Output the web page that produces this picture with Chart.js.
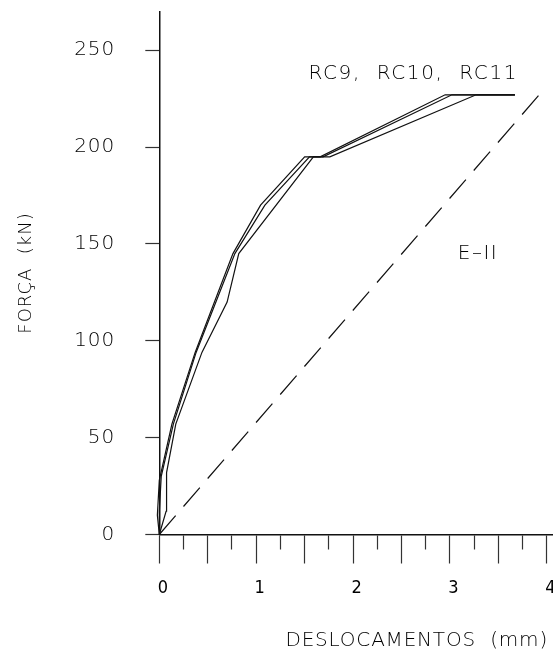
<!DOCTYPE html>
<html>
<head>
<meta charset="utf-8">
<script src="https://cdn.jsdelivr.net/npm/chart.js@4.4.0/dist/chart.umd.min.js"></script>
<style>
  html, body { margin: 0; padding: 0; background: #fff; }
  #wrap { width: 553px; height: 659px; }
</style>
</head>
<body>
<div id="wrap"><canvas id="forceChart" width="553" height="659"></canvas></div>
<script>
// ===== DATA =====
// displacement (mm) / force (kN) for each beam
var rc9Disp = [0, -0.02, 0.0, 0.13, 0.37, 0.76, 1.045, 1.50, 1.66, 2.95, 3.67];
var rc9Force = [0, 10, 28, 57, 94, 145, 170, 195, 195, 227, 227];
var rc10Disp = [0, 0.0, 0.02, 0.145, 0.38, 0.78, 1.09, 1.55, 1.69, 3.02, 3.67];
var rc10Force = [0, 12, 30, 57, 94, 145, 170, 195, 195, 227, 227];
var rc11Disp = [0, 0.07, 0.075, 0.17, 0.44, 0.70, 0.82, 1.59, 1.76, 3.27, 3.67];
var rc11Force = [0, 12, 32, 57, 94, 120, 145, 195, 195, 227, 227];
// elastic stage II reference line
var eIIDisp = [0, 3.92];
var eIIForce = [0, 227];

var xTickValues = [0, 0.25, 0.5, 0.75, 1, 1.25, 1.5, 1.75, 2, 2.25, 2.5, 2.75, 3, 3.25, 3.5, 3.75, 4];
var yTickValues = [0, 50, 100, 150, 200, 250];

var FONT = '"DejaVu Sans", "Liberation Sans", sans-serif';
var NARROW = '"Liberation Sans Narrow", "DejaVu Sans Condensed", "Liberation Sans", sans-serif';
var INK = '#000';

// ===== HELPERS =====
function toPoints(xs, ys) {
    return xs.map(function (x, i) { return { x: x, y: ys[i] }; });
}

function curve(label, xs, ys, dash) {
    return {
        label: label,
        data: toPoints(xs, ys),
        borderColor: '#111',
        borderWidth: 1.2,
        borderDash: dash || [],
        pointRadius: 0,
        fill: false,
        tension: 0,
        clip: false
    };
}

// free text on the plot: series names and the horizontal axis title
var plotText = {
    id: 'plotText',
    beforeDraw: function (chart) {
        chart.ctx.letterSpacing = '1px';
    },
    afterDraw: function (chart) {
        var ctx = chart.ctx;
        var xs = chart.scales.x, ys = chart.scales.y;
        ctx.save();
        ctx.fillStyle = INK;
        ctx.font = '200 20px ' + FONT;
        ctx.textBaseline = 'middle';
        ctx.textAlign = 'left';
        ctx.letterSpacing = '1.6px';
        ctx.fillText('RC9,  RC10,  RC11', xs.getPixelForValue(1.54), ys.getPixelForValue(238));
        ctx.letterSpacing = '1.5px';
        ctx.fillText('E\u2013II', xs.getPixelForValue(3.08), ys.getPixelForValue(145));
        ctx.letterSpacing = '0.8px';
        ctx.textAlign = 'right';
        ctx.fillText('DESLOCAMENTOS  (mm)', chart.chartArea.right - 5, 641);
        ctx.restore();
    }
};

// ===== CHART =====
new Chart(document.getElementById('forceChart'), {
    type: 'line',
    data: {
        datasets: [
            curve('RC9', rc9Disp, rc9Force),
            curve('RC10', rc10Disp, rc10Force),
            curve('RC11', rc11Disp, rc11Force),
            curve('E-II', eIIDisp, eIIForce, [25, 12])
        ]
    },
    options: {
        responsive: false,
        animation: false,
        devicePixelRatio: 1,
        layout: { padding: { top: 11.5, right: 0, bottom: 0, left: 0 } },
        plugins: { legend: { display: false }, tooltip: { enabled: false } },
        scales: {
            x: {
                type: 'linear',
                min: 0,
                max: 4.063,
                afterBuildTicks: function (scale) {
                    scale.ticks = xTickValues.map(function (v) { return { value: v }; });
                },
                afterFit: function (scale) {
                    scale.height = 124.5;
                    scale.paddingLeft = 0;
                    scale.paddingRight = 0;
                },
                border: { display: true, color: '#111', width: 1.5 },
                grid: {
                    drawOnChartArea: false,
                    drawTicks: true,
                    tickLength: 29,
                    tickColor: '#333',
                    tickWidth: 1.2,
                    // quarter ticks are short, half ticks run full length
                    tickBorderDash: function (c) {
                        return c.tick && (c.tick.value * 2) % 1 !== 0 ? [14, 60] : [];
                    }
                },
                ticks: {
                    autoSkip: false,
                    maxRotation: 0,
                    padding: 13.7,
                    labelOffset: 4,
                    color: INK,
                    font: { family: NARROW, size: 18 },
                    callback: function (v) { return Number.isInteger(v) ? String(v) : ''; }
                }
            },
            y: {
                type: 'linear',
                min: 0,
                max: 270,
                afterBuildTicks: function (scale) {
                    scale.ticks = yTickValues.map(function (v) { return { value: v }; });
                },
                afterFit: function (scale) {
                    scale.width = 159.3;
                    scale.paddingTop = 0;
                    scale.paddingBottom = 0;
                },
                border: { display: true, color: '#111', width: 1.5 },
                grid: {
                    drawOnChartArea: false,
                    drawTicks: true,
                    tickLength: 14,
                    tickColor: '#333',
                    tickWidth: 1.2
                },
                ticks: {
                    padding: 30,
                    color: INK,
                    font: { family: FONT, size: 20, weight: '200' }
                },
                title: {
                    display: true,
                    text: 'FORÇA  (kN)',
                    color: INK,
                    font: { family: FONT, size: 18, weight: '200' },
                    padding: { top: 16, bottom: 0 }
                }
            }
        }
    },
    plugins: [plotText]
});
</script>
</body>
</html>
